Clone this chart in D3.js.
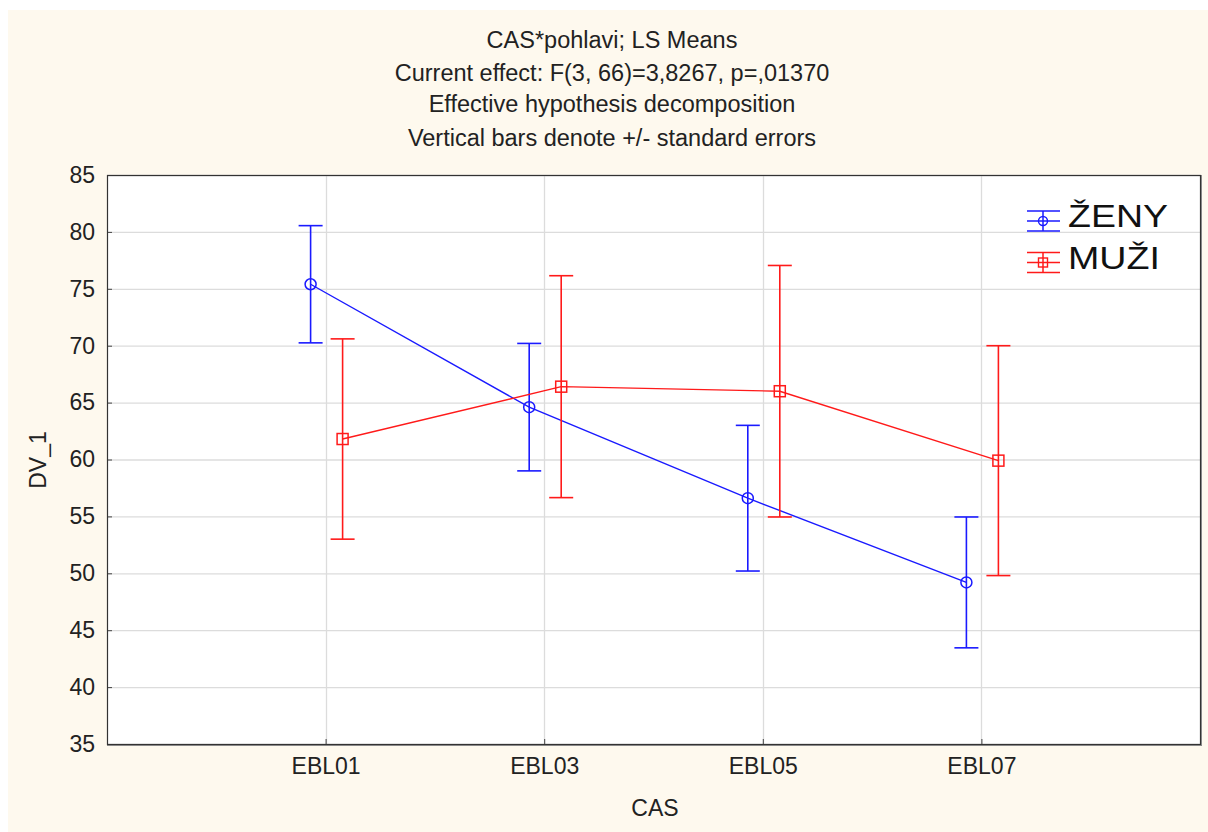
<!DOCTYPE html>
<html><head><meta charset="utf-8">
<script src="https://cdn.jsdelivr.net/npm/d3@7"></script>
<style>body{margin:0;background:#fff;}svg{display:block;font-family:"Liberation Sans",Arial,sans-serif;}</style>
</head><body>
<svg id="c" width="1208" height="832"></svg>
<script>
const categories = ["EBL01","EBL03","EBL05","EBL07"];
const zenyMean = [75.4, 64.6, 56.6, 49.2];
const zenySE   = [5.15, 5.6, 6.4, 5.75];
const muziMean = [61.8, 66.4, 66.0, 59.9];
const muziSE   = [8.8, 9.75, 11.05, 10.1];
const yTicks = [35,40,45,50,55,60,65,70,75,80,85];
const titleLines = ["CAS*pohlavi; LS Means","Current effect: F(3, 66)=3,8267, p=,01370","Effective hypothesis decomposition","Vertical bars denote +/- standard errors"];
const seriesNames = ["ŽENY","MUŽI"];

const svg = d3.select("#c");
svg.append("rect").attr("x",8).attr("y",10).attr("width",1200).attr("height",822).attr("fill","#fef9ee");

const L=107,R=1200,T=175,B=744;
const x = d3.scaleLinear().domain([0,5]).range([L,R]);
const y = d3.scaleLinear().domain([35,85]).range([B,T]);

svg.append("rect").attr("x",L).attr("y",T).attr("width",R-L).attr("height",B-T).attr("fill","#fff");

// grid
const g = svg.append("g");
g.selectAll(".hy").data(yTicks).join("line").attr("x1",L).attr("x2",R)
 .attr("y1",d=>y(d)+0.5).attr("y2",d=>y(d)+0.5).attr("stroke","#dcdcdc").attr("stroke-width",1.3);
g.selectAll(".vx").data(categories).join("line").attr("y1",T).attr("y2",B)
 .attr("x1",(d,i)=>Math.round(x(i+1))+0.5).attr("x2",(d,i)=>Math.round(x(i+1))+0.5).attr("stroke","#dcdcdc").attr("stroke-width",1.3);

const FONT = "Liberation Sans, Arial, sans-serif";
// axes
const yAxis = d3.axisLeft(y).tickValues(yTicks).tickSize(-5).tickPadding(12);
const ya = svg.append("g").attr("transform",`translate(${L},0)`).call(yAxis);
ya.select(".domain").remove();
ya.selectAll("text").attr("font-size",23).attr("fill","#222").attr("font-family",FONT);
ya.selectAll("line").attr("stroke","#444");

const xAxis = d3.axisBottom(x).tickValues([1,2,3,4]).tickFormat(d=>categories[d-1]).tickSize(-5).tickPadding(14);
const xa = svg.append("g").attr("transform",`translate(0,${B})`).call(xAxis);
xa.select(".domain").remove();
xa.selectAll("text").attr("font-size",23).attr("fill","#222").attr("font-family",FONT);
xa.selectAll("line").attr("stroke","#444");

// frame
svg.append("rect").attr("x",L+0.5).attr("y",T+0.5).attr("width",R-L).attr("height",B-T).attr("fill","none").attr("stroke","#333").attr("stroke-width",1.2);
svg.append("line").attr("x1",R+1.5).attr("x2",R+1.5).attr("y1",T).attr("y2",B+2).attr("stroke","#888").attr("stroke-width",1);
svg.append("line").attr("x1",L).attr("x2",R+2).attr("y1",B+1.5).attr("y2",B+1.5).attr("stroke","#888").attr("stroke-width",1);

// series
const series = [
  {name:seriesNames[0], mean:zenyMean, se:zenySE, color:"#1a1aff", off:-15, shape:"circle", len:100},
  {name:seriesNames[1], mean:muziMean, se:muziSE, color:"#ff1a1a", off:17, shape:"square", len:92}
];
series.forEach(s=>{
  const pts = s.mean.map((m,i)=>({cx:x(i+1)+s.off, m, se:s.se[i]}));
  const sg = svg.append("g");
  sg.append("path").datum(pts).attr("fill","none").attr("stroke",s.color).attr("stroke-width",1.4)
    .attr("d",d3.line().x(d=>d.cx).y(d=>y(d.m)));
  sg.selectAll(".eb").data(pts).join("line").attr("x1",d=>d.cx).attr("x2",d=>d.cx)
    .attr("y1",d=>y(d.m+d.se)).attr("y2",d=>y(d.m-d.se)).attr("stroke",s.color).attr("stroke-width",1.6);
  sg.selectAll(".cu").data(pts).join("line").attr("x1",d=>d.cx-12).attr("x2",d=>d.cx+12)
    .attr("y1",d=>y(d.m+d.se)).attr("y2",d=>y(d.m+d.se)).attr("stroke",s.color).attr("stroke-width",1.6);
  sg.selectAll(".cl").data(pts).join("line").attr("x1",d=>d.cx-12).attr("x2",d=>d.cx+12)
    .attr("y1",d=>y(d.m-d.se)).attr("y2",d=>y(d.m-d.se)).attr("stroke",s.color).attr("stroke-width",1.6);
  if(s.shape==="circle"){
    sg.selectAll(".mk").data(pts).join("circle").attr("cx",d=>d.cx).attr("cy",d=>y(d.m)).attr("r",5.5)
      .attr("fill","none").attr("stroke",s.color).attr("stroke-width",1.5);
  } else {
    sg.selectAll(".mk").data(pts).join("rect").attr("x",d=>d.cx-5.5).attr("y",d=>y(d.m)-5.5).attr("width",11).attr("height",11)
      .attr("fill","none").attr("stroke",s.color).attr("stroke-width",1.5);
  }
});

// legend
const lg = svg.append("g");
series.forEach((s,i)=>{
  const cy = 221 + i*41.5, cx = 1043;
  [-10,0,10].forEach(dy=>lg.append("line").attr("x1",1027).attr("x2",1060).attr("y1",cy+dy).attr("y2",cy+dy).attr("stroke",s.color).attr("stroke-width",1.5));
  lg.append("line").attr("x1",cx).attr("x2",cx).attr("y1",cy-10).attr("y2",cy+10).attr("stroke",s.color).attr("stroke-width",1.5);
  if(s.shape==="circle") lg.append("circle").attr("cx",cx).attr("cy",cy).attr("r",4.5).attr("fill","none").attr("stroke",s.color).attr("stroke-width",1.4);
  else lg.append("rect").attr("x",cx-4.5).attr("y",cy-4.5).attr("width",9).attr("height",9).attr("fill","none").attr("stroke",s.color).attr("stroke-width",1.4);
  lg.append("text").attr("x",1068).attr("y",227+i*42).attr("font-size",31)
    .attr("textLength",s.len).attr("lengthAdjust","spacingAndGlyphs").attr("fill","#111").text(s.name);
});

// titles
svg.append("g").selectAll("text").data(titleLines).join("text")
  .attr("x",612).attr("y",(d,i)=>[48,81,112,146][i]).attr("text-anchor","middle")
  .attr("font-size",23.5).attr("fill","#222").text(d=>d);
svg.append("text").attr("x",655).attr("y",816).attr("text-anchor","middle").attr("font-size",23).attr("fill","#222").text("CAS");
svg.append("text").attr("transform","translate(46,460) rotate(-90)").attr("text-anchor","middle").attr("font-size",23).attr("fill","#222").text("DV_1");
</script>
</body></html>
